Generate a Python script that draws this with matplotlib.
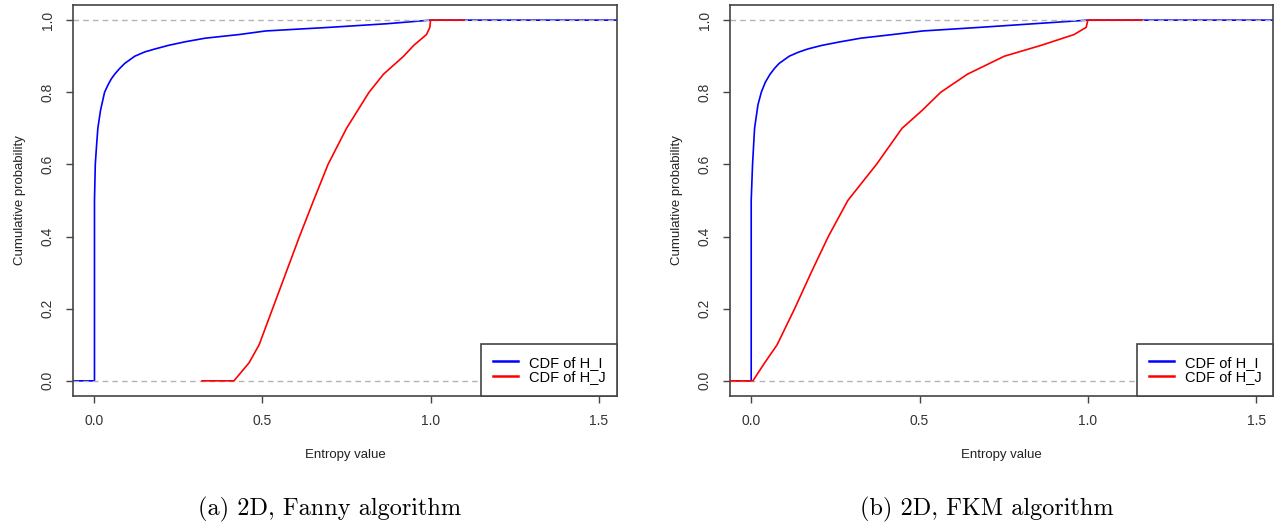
import matplotlib
matplotlib.use("Agg")
import matplotlib.pyplot as plt

# ---- data ----
# (a) Fanny algorithm
fanny_hi_x = [-0.07, 0.0, 0.0, 0.0024, 0.006, 0.01, 0.018, 0.03, 0.04, 0.05, 0.06, 0.075,
              0.09, 0.12, 0.15, 0.18, 0.22, 0.27, 0.33, 0.43, 0.51, 0.70, 0.87, 1.0, 1.6]
fanny_hi_y = [0, 0, 0.5, 0.6, 0.65, 0.7, 0.75, 0.8, 0.82, 0.837, 0.85, 0.866,
              0.88, 0.9, 0.912, 0.92, 0.93, 0.94, 0.95, 0.96, 0.97, 0.98, 0.99, 1.0, 1.0]
fanny_hj_x = [0.32, 0.415, 0.46, 0.49, 0.53, 0.57, 0.61, 0.652, 0.695, 0.75,
              0.817, 0.86, 0.92, 0.95, 0.988, 0.998, 1.0, 1.1]
fanny_hj_y = [0, 0, 0.05, 0.1, 0.2, 0.3, 0.4, 0.5, 0.6, 0.7,
              0.8, 0.85, 0.9, 0.93, 0.96, 0.98, 1.0, 1.0]

# (b) FKM algorithm
fkm_hi_x = [-0.07, 0.0, 0.0, 0.004, 0.01, 0.02, 0.03, 0.042, 0.056, 0.07, 0.083,
            0.113, 0.14, 0.168, 0.21, 0.265, 0.326, 0.42, 0.51, 0.68, 0.84, 1.0, 1.6]
fkm_hi_y = [0, 0, 0.5, 0.6, 0.7, 0.765, 0.8, 0.828, 0.85, 0.867, 0.88,
            0.9, 0.911, 0.92, 0.93, 0.94, 0.95, 0.96, 0.97, 0.98, 0.99, 1.0, 1.0]
fkm_hj_x = [-0.07, 0.005, 0.04, 0.077, 0.129, 0.178, 0.229, 0.287, 0.372, 0.448,
            0.508, 0.563, 0.642, 0.752, 0.861, 0.959, 0.995, 1.0, 1.16]
fkm_hj_y = [0, 0, 0.05, 0.1, 0.2, 0.3, 0.4, 0.5, 0.6, 0.7,
            0.75, 0.8, 0.85, 0.9, 0.93, 0.96, 0.98, 1.0, 1.0]

x_ticks = [0.0, 0.5, 1.0, 1.5]
y_ticks = [0.0, 0.2, 0.4, 0.6, 0.8, 1.0]
captions = ["(a) 2D, Fanny algorithm", "(b) 2D, FKM algorithm"]
legend_labels = ["CDF of H_I", "CDF of H_J"]

plt.rcParams['font.family'] = ['Liberation Sans', 'DejaVu Sans']
axis_col = "#444444"

fig = plt.figure(figsize=(12.78, 5.24), dpi=100)
ax_a = fig.add_axes([0.0571, 0.2443, 0.4257, 0.7462])
ax_b = fig.add_axes([0.5712, 0.2443, 0.4249, 0.7462])

panels = [
    (ax_a, fanny_hi_x, fanny_hi_y, fanny_hj_x, fanny_hj_y, (-0.064, 1.555), 0.258),
    (ax_b, fkm_hi_x, fkm_hi_y, fkm_hj_x, fkm_hj_y, (-0.063, 1.55), 0.772),
]

for i, (ax, hx, hy, jx, jy, xl, cap_x) in enumerate(panels):
    l1, = ax.plot(hx, hy, color="#0000FF", lw=1.2, zorder=2)
    ax.axhline(0, color="#B3B3B3", lw=1.0, ls=(0, (4, 3)), zorder=2.5)
    ax.axhline(1, color="#B3B3B3", lw=1.0, ls=(0, (4, 3)), zorder=2.5)
    l2, = ax.plot(jx, jy, color="#FF0000", lw=1.2, zorder=3)

    ax.set_xlim(*xl)
    ax.set_ylim(-0.042, 1.042)
    ax.set_xticks(x_ticks)
    ax.set_xticklabels([f"{t:.1f}" for t in x_ticks])
    ax.set_yticks(y_ticks)
    ax.set_yticklabels([f"{t:.1f}" for t in y_ticks], rotation=90, va="center")
    ax.tick_params(direction="out", length=5, width=1, color=axis_col,
                   labelcolor="#333333", labelsize=10, pad=8)
    for s in ax.spines.values():
        s.set_color(axis_col)
        s.set_linewidth(1.2)

    ax.set_xlabel("Entropy value", fontsize=9.5, color="#222222", labelpad=15)
    ax.set_ylabel("Cumulative probability", fontsize=9.5, color="#222222", labelpad=11)

    leg = ax.legend([l1, l2], legend_labels, loc="lower right", borderaxespad=0,
                    fancybox=False, framealpha=1, edgecolor=axis_col, fontsize=10.5,
                    handlelength=1.7, handletextpad=0.75, labelspacing=0.05,
                    borderpad=0.8)
    leg.get_frame().set_linewidth(1.2)
    for ln in leg.get_lines():
        ln.set_linewidth(1.8)

    fig.text(cap_x, 0.027, captions[i], ha="center", va="center",
             fontsize=17.5, family="cmr10", color="black")

fig.savefig("out.png", dpi=100)
